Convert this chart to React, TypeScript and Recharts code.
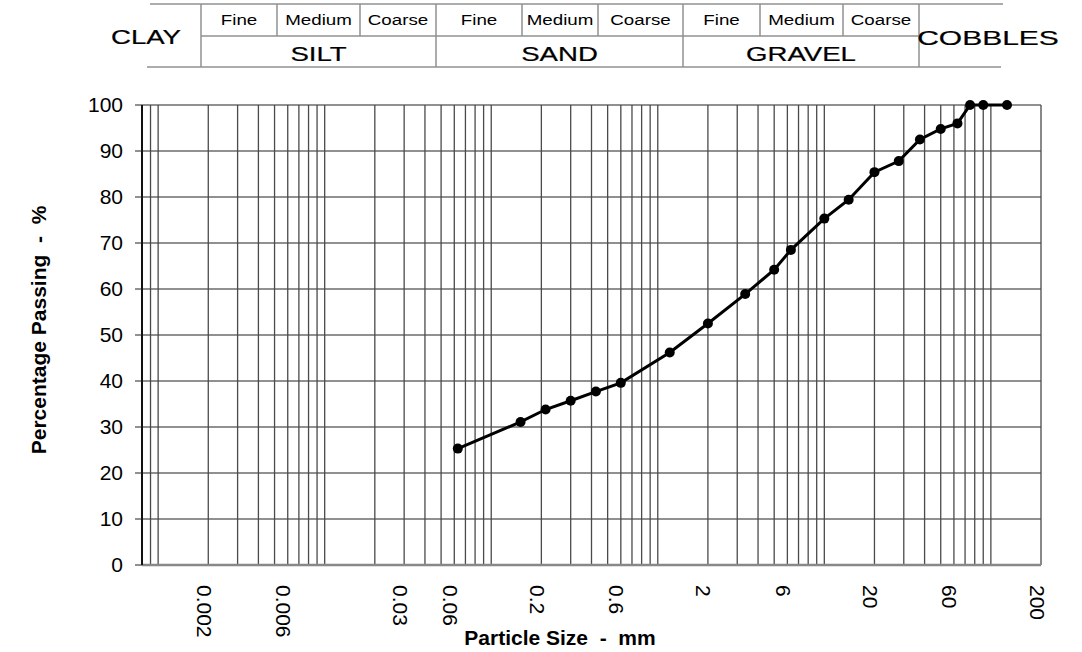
import React from 'react';
import { LineChart, Line, XAxis, YAxis, CartesianGrid } from 'recharts';

// sieve sizes (mm) and percent passing
const SIZES = [0.063, 0.15, 0.212, 0.3, 0.425, 0.6, 1.18, 2, 3.35, 5, 6.3, 10, 14, 20, 28, 37.5, 50, 63, 75, 90, 125];
const PASSING = [25.3, 31.1, 33.8, 35.7, 37.7, 39.6, 46.2, 52.5, 58.9, 64.2, 68.5, 75.3, 79.4, 85.4, 87.8, 92.5, 94.8, 96.0, 100, 100, 100];

const X_LABELS = [0.002, 0.006, 0.03, 0.06, 0.2, 0.6, 2, 6, 20, 60, 200];
const Y_TICKS = [0, 10, 20, 30, 40, 50, 60, 70, 80, 90, 100];

const SUB_NAMES = ['Fine', 'Medium', 'Coarse', 'Fine', 'Medium', 'Coarse', 'Fine', 'Medium', 'Coarse'];
const MAIN_NAMES = ['SILT', 'SAND', 'GRAVEL'];

const W = 1082;
const H = 652;
const FONT = '"Liberation Sans", Arial, sans-serif';

// log grid: 1..9 x 10^k from 0.0008 up to 200
const GRID_X: number[] = [0.0008, 0.0009];
for (let k = -3; k <= 2; k++) {
    for (let m = 1; m <= 9; m++) {
        const v = Number((m * Math.pow(10, k)).toPrecision(6));
        if (v <= 200) GRID_X.push(v);
    }
}

const data = SIZES.map((s, i) => ({ size: s, pct: PASSING[i] }));

const isLabel = (v: number) => X_LABELS.some((l) => Math.abs(v - l) / l < 1e-6);

const XTick = (props: any) => {
    const { x, y, payload } = props;
    if (!isLabel(payload.value)) return null;
    return (
        <text
            transform={`translate(${x - 4},${y}) rotate(90)`}
            textAnchor="start"
            dominantBaseline="central"
            fontSize={21}
            fontFamily={FONT}
            fill="#000"
        >
            {String(payload.value)}
        </text>
    );
};

// header classification table (static drawing above the plot)
const HB = [201, 277, 360, 436, 522, 598, 683, 760, 843, 919];
const HT = 4;
const HM = 36;
const HBOT = 67;

const Stretched = ({ x, y, size, sx, sw = 0, children }: any) => (
    <text
        transform={`translate(${x},${y}) scale(${sx},1)`}
        textAnchor="middle"
        dominantBaseline="central"
        fontSize={size}
        fontFamily={FONT}
        fill="#000"
        stroke="#000"
        strokeWidth={sw}
    >
        {children}
    </text>
);

function Header() {
    const lc = '#909090';
    return (
        <g>
            <line x1={150} y1={HT} x2={1003} y2={HT} stroke={lc} strokeWidth={1.5} />
            <line x1={HB[0]} y1={HM} x2={HB[9]} y2={HM} stroke={lc} strokeWidth={1.5} />
            <line x1={147} y1={HBOT} x2={1001} y2={HBOT} stroke={lc} strokeWidth={1.5} />
            {HB.map((b, i) => (
                <line key={b} x1={b} y1={HT} x2={b} y2={i % 3 === 0 ? HBOT : HM} stroke={lc} strokeWidth={1.5} />
            ))}
            {SUB_NAMES.map((n, i) => (
                <Stretched key={i} x={(HB[i] + HB[i + 1]) / 2} y={20.5} size={15} sx={1.25}>{n}</Stretched>
            ))}
            {MAIN_NAMES.map((n, i) => (
                <Stretched key={n} x={(HB[i * 3] + HB[i * 3 + 3]) / 2} y={54} size={20} sx={1.38} sw={0.2}>{n}</Stretched>
            ))}
            <Stretched x={146} y={37} size={20} sx={1.38} sw={0.2}>CLAY</Stretched>
            <Stretched x={988} y={38} size={20} sx={1.5} sw={0.2}>COBBLES</Stretched>
        </g>
    );
}

export default function App() {
    return (
        <div style={{ position: 'absolute', left: 0, top: 0, width: W, height: H, background: '#fff' }}>
            <LineChart width={W} height={H} data={data} margin={{ top: 105, right: 41, bottom: 0, left: 0 }}>
                <CartesianGrid vertical={false} stroke="#222" strokeWidth={1.2} />
                <CartesianGrid horizontal={false} stroke="#4a4a4a" strokeWidth={1.3} />
                <XAxis
                    dataKey="size"
                    type="number"
                    scale="log"
                    domain={[0.0008, 200]}
                    allowDataOverflow
                    ticks={GRID_X}
                    interval={0}
                    height={87}
                    tickSize={0}
                    tickMargin={20}
                    tickLine={false}
                    axisLine={{ stroke: '#888', strokeWidth: 2.5 }}
                    tick={<XTick />}
                />
                <YAxis
                    type="number"
                    domain={[0, 100]}
                    ticks={Y_TICKS}
                    interval={0}
                    width={142}
                    tickSize={7}
                    tickMargin={12}
                    tickLine={{ stroke: '#222' }}
                    axisLine={{ stroke: '#111', strokeWidth: 2 }}
                    tick={{ fontSize: 21, fill: '#000', fontFamily: FONT }}
                />
                <Line
                    type="linear"
                    dataKey="pct"
                    stroke="#000"
                    strokeWidth={3}
                    dot={{ r: 5, fill: '#000', stroke: '#000', strokeWidth: 0 }}
                    isAnimationActive={false}
                />
            </LineChart>
            <svg width={W} height={H} style={{ position: 'absolute', left: 0, top: 0, pointerEvents: 'none' }}>
                <Header />
                <text
                    transform="translate(38,330) rotate(-90)"
                    textAnchor="middle"
                    dominantBaseline="central"
                    fontSize={21}
                    fontWeight="bold"
                    fontFamily={FONT}
                    style={{ whiteSpace: 'pre' }}
                >
                    {'Percentage Passing  -  %'}
                </text>
                <text
                    x={560}
                    y={645}
                    textAnchor="middle"
                    fontSize={21}
                    fontWeight="bold"
                    fontFamily={FONT}
                    style={{ whiteSpace: 'pre' }}
                >
                    {'Particle Size  -  mm'}
                </text>
            </svg>
        </div>
    );
}
